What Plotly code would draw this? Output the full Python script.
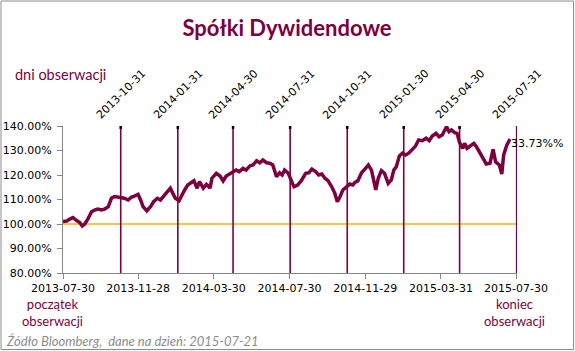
import plotly.graph_objects as go

# ---------------- data ----------------
dates = [
    "2013-07-30", "2013-08-05", "2013-08-10", "2013-08-15", "2013-08-21", "2013-08-26", "2013-08-30",
    "2013-09-03", "2013-09-08", "2013-09-14", "2013-09-19", "2013-09-24", "2013-09-30", "2013-10-05",
    "2013-10-11", "2013-10-16", "2013-10-21", "2013-10-29", "2013-11-06", "2013-11-12", "2013-11-17",
    "2013-11-22", "2013-11-28", "2013-12-02", "2013-12-06", "2013-12-12", "2013-12-18", "2013-12-23",
    "2013-12-29", "2014-01-03", "2014-01-08", "2014-01-13", "2014-01-19", "2014-01-23", "2014-01-27",
    "2014-02-02", "2014-02-06", "2014-02-11", "2014-02-16", "2014-02-22", "2014-02-26", "2014-03-03",
    "2014-03-07", "2014-03-13", "2014-03-18", "2014-03-22", "2014-03-24", "2014-03-27", "2014-04-03",
    "2014-04-09", "2014-04-14", "2014-04-19", "2014-04-25", "2014-04-30", "2014-05-05", "2014-05-10",
    "2014-05-16", "2014-05-21", "2014-05-27", "2014-06-01", "2014-06-07", "2014-06-12", "2014-06-17",
    "2014-06-23", "2014-06-28", "2014-07-03", "2014-07-09", "2014-07-14", "2014-07-18", "2014-07-22",
    "2014-07-28", "2014-08-01", "2014-08-06", "2014-08-12", "2014-08-18", "2014-08-25", "2014-08-30",
    "2014-09-04", "2014-09-10", "2014-09-15", "2014-09-20", "2014-09-25", "2014-09-30", "2014-10-06",
    "2014-10-11", "2014-10-15", "2014-10-19", "2014-10-24", "2014-10-30", "2014-11-04", "2014-11-09",
    "2014-11-12", "2014-11-17", "2014-11-23", "2014-11-28", "2014-12-04", "2014-12-09", "2014-12-13",
    "2014-12-16", "2014-12-20", "2014-12-25", "2014-12-30", "2015-01-05", "2015-01-10", "2015-01-14",
    "2015-01-18", "2015-01-23", "2015-01-28", "2015-02-02", "2015-02-07", "2015-02-13", "2015-02-18",
    "2015-02-23", "2015-03-01", "2015-03-07", "2015-03-12", "2015-03-17", "2015-03-23", "2015-03-28",
    "2015-04-02", "2015-04-09", "2015-04-13", "2015-04-17", "2015-04-22", "2015-04-26", "2015-04-30",
    "2015-05-05", "2015-05-08", "2015-05-12", "2015-05-18", "2015-05-23", "2015-05-27", "2015-06-02",
    "2015-06-07", "2015-06-12", "2015-06-18", "2015-06-23", "2015-06-27", "2015-07-03", "2015-07-07",
    "2015-07-10", "2015-07-15", "2015-07-19", "2015-07-21",
]
values = [
    101.0, 101.2, 102.0, 102.6, 101.4, 100.6, 99.2,
    100.0, 102.0, 105.0, 105.7, 106.1, 105.7, 106.1,
    107.1, 110.5, 111.2, 110.9, 110.5, 109.8, 110.9,
    111.4, 112.1, 109.8, 107.1, 105.4, 107.1, 109.1,
    110.5, 109.8, 111.4, 113.2, 114.6, 112.5, 110.5,
    109.5, 111.8, 113.9, 115.9, 116.9, 117.7, 114.6,
    117.3, 114.6, 116.2, 115.2, 114.6, 118.7, 120.7,
    119.6, 117.6, 119.6, 120.4, 121.4, 122.0, 121.4,
    122.7, 122.0, 123.7, 124.1, 125.8, 125.0, 126.1,
    125.0, 124.8, 124.1, 119.3, 120.9, 120.0, 122.0,
    120.7, 118.2, 115.2, 115.9, 117.7, 120.7, 120.9,
    122.4, 121.4, 120.0, 120.4, 118.7, 117.7, 115.2,
    112.5, 109.1, 110.9, 113.9, 115.2, 116.3, 115.9,
    116.9, 117.6, 120.9, 122.3, 124.1, 122.0, 117.3,
    113.9, 118.7, 121.8, 120.7, 116.6, 118.0, 122.0,
    123.4, 127.8, 128.9, 128.2, 128.9, 130.5, 131.8,
    134.3, 134.0, 135.0, 134.0, 135.9, 137.0, 135.6,
    136.3, 139.7, 137.7, 138.4, 137.3, 137.0, 133.2,
    130.9, 132.9, 130.9, 132.2, 132.9, 131.6, 128.9,
    127.2, 124.5, 124.8, 130.5, 125.4, 124.1, 120.4,
    128.2, 132.2, 134.0, 133.73,
]
observation_dates = ["2013-10-31", "2014-01-31", "2014-04-30", "2014-07-31",
                     "2014-10-31", "2015-01-30", "2015-04-30", "2015-07-31"]
x_tick_dates = ["2013-07-30", "2013-11-28", "2014-03-30", "2014-07-30",
                "2014-11-29", "2015-03-31", "2015-07-30"]
y_ticks = [80, 90, 100, 110, 120, 130, 140]
y_tick_text = ["80.00%", "90.00%", "100.00%", "110.00%", "120.00%", "130.00%", "140.00%"]
baseline = 100
end_label = "33.73%%"
title_text = "Spółki Dywidendowe"

# ---------------- layout helpers ----------------
W, H = 575, 351
L, R, T, B = 63, 517, 126, 273  # plot-area pixel box
MAROON = "#7D0040"
FONT = "DejaVu Sans"

def px(x):
    return (x - L) / (R - L)

def py(y):
    return (B - y) / (B - T)

fig = go.Figure()
fig.add_trace(go.Scatter(
    x=dates, y=values, mode="lines",
    line=dict(color=MAROON, width=3.5),
    hoverinfo="skip", showlegend=False,
))

shapes = []
# baseline 100%
shapes.append(dict(type="line", xref="paper", yref="y", x0=0, x1=px(516), y0=baseline, y1=baseline,
                   line=dict(color="#F5B400", width=1.5), layer="below"))
# observation vertical lines
for i, d in enumerate(observation_dates):
    shapes.append(dict(type="line", xref="x", yref="y", x0=d, x1=d, y0=80, y1=140,
                       line=dict(color=MAROON, width=1.6), layer="below"))
    if i < len(observation_dates) - 1:
        shapes.append(dict(type="line", xref="x", yref="y", x0=d, x1=d, y0=138.8, y1=140,
                           line=dict(color="black", width=2.5)))
# outer chart border
shapes.append(dict(type="rect", xref="paper", yref="paper",
                   x0=px(1), x1=px(573.5), y0=py(349.5), y1=py(1),
                   line=dict(color="#8C8C8C", width=1)))

annotations = []
for d in observation_dates:
    annotations.append(dict(x=d, xref="x", y=py(94), yref="paper", text=d, showarrow=False,
                            textangle=-45, xanchor="center", yanchor="middle",
                            font=dict(family=FONT, size=11, color="black")))
annotations.append(dict(x=px(13), xref="paper", y=py(74), yref="paper", text="dni obserwacji",
                        showarrow=False, xanchor="left", yanchor="middle",
                        font=dict(family="Lato", size=14.5, color=MAROON)))
annotations.append(dict(x=px(52), xref="paper", y=py(312), yref="paper",
                        text="początek<br>obserwacji", showarrow=False, xanchor="center",
                        yanchor="middle", align="center",
                        font=dict(family="Lato", size=13, color=MAROON)))
annotations.append(dict(x=px(514), xref="paper", y=py(312), yref="paper",
                        text="koniec<br>obserwacji", showarrow=False, xanchor="center",
                        yanchor="middle", align="center",
                        font=dict(family="Lato", size=13, color=MAROON)))
annotations.append(dict(x=px(4), xref="paper", y=py(341), yref="paper",
                        text="<i>Źódło Bloomberg,  dane na dzień: 2015-07-21</i>",
                        showarrow=False, xanchor="left", yanchor="middle",
                        font=dict(family="Lato", size=13, color="#8C8C8C")))
annotations.append(dict(x=dates[-1], xref="x", y=values[-1], yref="y", text=end_label,
                        showarrow=False, xanchor="left", yanchor="middle", xshift=-1, yshift=-2,
                        font=dict(family=FONT, size=11, color="black")))

fig.update_layout(
    width=W, height=H,
    margin=dict(l=L, r=W - R, t=T, b=H - B, autoexpand=False),
    paper_bgcolor="white", plot_bgcolor="white",
    title=dict(text="<b>" + title_text + "</b>", x=287 / W, xref="container", xanchor="center",
               y=1 - 28 / H, yref="container", yanchor="middle",
               font=dict(family="Lato", size=22, color=MAROON)),
    xaxis=dict(type="date", range=["2013-07-30", "2015-07-31 12:00"], automargin=False,
               tickvals=x_tick_dates, ticktext=x_tick_dates,
               showgrid=False, zeroline=False, showline=True, linecolor="#868686", linewidth=1,
               ticks="outside", ticklen=5, tickcolor="#868686",
               tickfont=dict(family=FONT, size=11, color="black")),
    yaxis=dict(range=[80, 140], tickvals=y_ticks, ticktext=y_tick_text, automargin=False,
               showgrid=False, zeroline=False, showline=True, linecolor="#868686", linewidth=1,
               ticks="outside", ticklen=5, tickcolor="#868686", ticklabelstandoff=3,
               tickfont=dict(family=FONT, size=11, color="black")),
    shapes=shapes, annotations=annotations,
)

fig.write_html("out.html")
